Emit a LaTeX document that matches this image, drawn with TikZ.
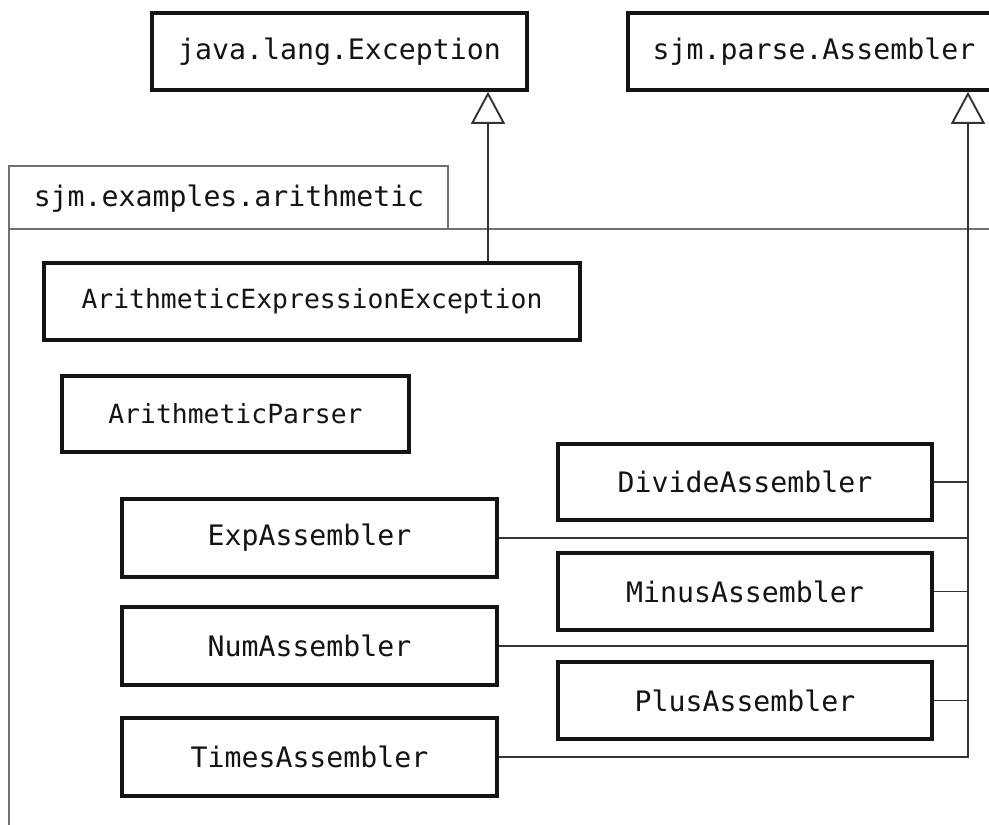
\documentclass[tikz,border=0pt]{standalone}
\usepackage{fontspec}
\setmonofont{DejaVu Sans Mono}
\usetikzlibrary{arrows.meta}
\definecolor{ink}{HTML}{141414}
\definecolor{pkgline}{HTML}{707070}
\definecolor{wire}{HTML}{333333}
\tikzset{
  classbox/.style={draw=ink, line width=3.6pt, fill=white, text=ink,
    inner sep=0pt, font=\ttfamily\fontsize{28.2}{32}\selectfont},
  smallclass/.style={classbox, font=\ttfamily\fontsize{26.4}{30}\selectfont},
  pkg/.style={draw=pkgline, line width=2pt},
  wireline/.style={draw=wire, line width=1.9pt},
  inherits/.style={wireline, -{Triangle[open, length=32pt, width=34pt, fill=white]}}
}
\begin{document}
\begin{tikzpicture}[x=1pt, y=-1pt]
  \useasboundingbox (0,0) rectangle (989,825);
  \clip (0,0) rectangle (989,825);
  \fill[white] (0,0) rectangle (989,825);

  % package frame: tab and body
  \draw[pkg] (9,229) -- (9,166) -- (448,166) -- (448,229);
  \draw[pkg] (9,840) -- (9,229) -- (1010,229);
  \node[font=\ttfamily\fontsize{28.2}{32}\selectfont, text=ink] (pkgname) at (229,199) {sjm.examples.arithmetic};

  % external superclasses
  \node[classbox, minimum width=375pt, minimum height=77pt] (exc) at (339.5,51.5) {java.lang.Exception};
  \node[classbox, minimum width=372pt, minimum height=77pt] (asm) at (814,51.5) {sjm.parse.Assembler};

  % classes in the package
  \node[smallclass, minimum width=536pt, minimum height=77pt] (aee) at (312,301.5) {ArithmeticExpressionException};
  \node[smallclass, minimum width=347pt, minimum height=76pt] (ap) at (235.5,414) {ArithmeticParser};

  \node[classbox, minimum width=374pt, minimum height=76pt] (divide) at (745,482) {DivideAssembler};
  \node[classbox, minimum width=374pt, minimum height=77pt] (minus) at (745,591.5) {MinusAssembler};
  \node[classbox, minimum width=374pt, minimum height=77pt] (plus) at (745,700.5) {PlusAssembler};

  \node[classbox, minimum width=375pt, minimum height=78pt] (exp) at (309.5,538) {ExpAssembler};
  \node[classbox, minimum width=375pt, minimum height=78pt] (num) at (309.5,646) {NumAssembler};
  \node[classbox, minimum width=375pt, minimum height=78pt] (times) at (309.5,757) {TimesAssembler};

  % inheritance connectors
  \coordinate (excx) at (488,0);
  \coordinate (trunk) at (968,0);
  \draw[inherits] (aee.north -| excx) -- (exc.south -| excx);

  \draw[wireline] (divide.east) -- (divide.east -| trunk);
  \draw[wireline] (minus.east) -- (minus.east -| trunk);
  \draw[wireline] (plus.east) -- (plus.east -| trunk);
  \draw[wireline] (exp.east) -- (exp.east -| trunk);
  \draw[wireline] (num.east) -- (num.east -| trunk);
  \draw[inherits] (times.east) -- (times.east -| trunk) -- (asm.south -| trunk);
\end{tikzpicture}
\end{document}
